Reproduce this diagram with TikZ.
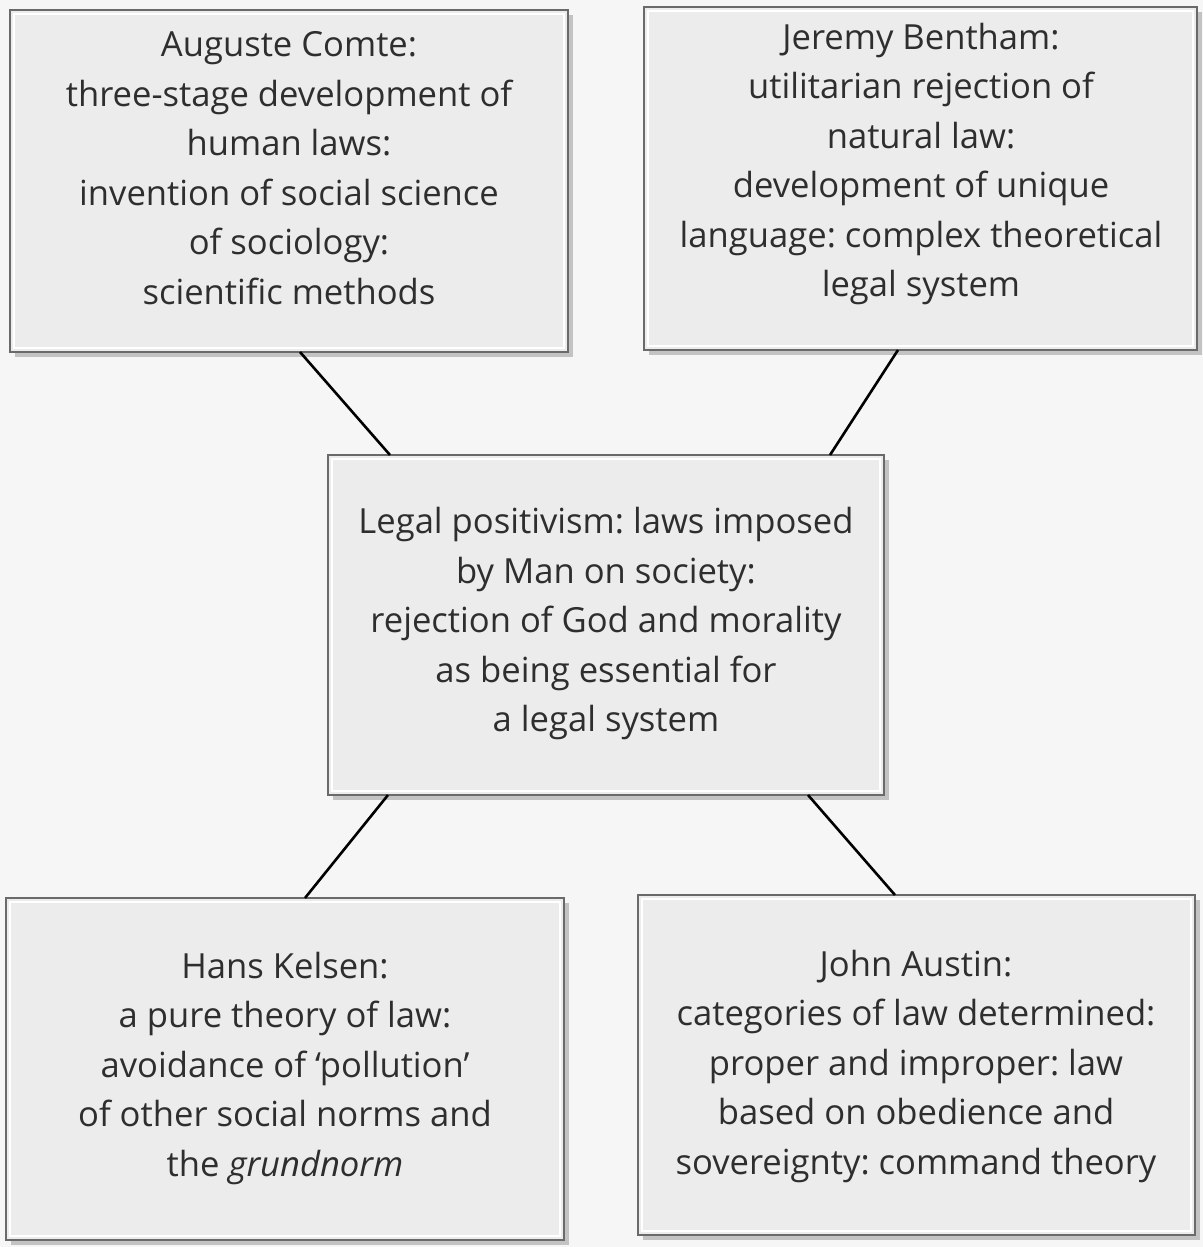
\documentclass[tikz,border=0pt]{standalone}
\usepackage{fontspec}
\newfontfamily\boxfont{Open Sans}
\usetikzlibrary{shadows}
\definecolor{bg}{HTML}{F6F6F6}
\definecolor{boxfill}{HTML}{ECECEC}
\definecolor{boxline}{HTML}{6A6A6A}
\definecolor{txt}{HTML}{2E2E2E}
\frenchspacing
\tikzset{
  px/.style={x=0.5pt,y=-0.5pt},
  card/.style={rectangle, draw=boxline, line width=1.4pt, fill=boxfill,
    inner sep=0pt, outer sep=0pt,
    drop shadow={shadow xshift=2.5pt, shadow yshift=-2.5pt, opacity=0.35, fill=black!60}},
  cardtext/.style={align=center, text=txt, inner sep=0pt,
    font=\boxfont\fontsize{17.3pt}{24.75pt}\selectfont},
  link/.style={draw=black, line width=1.3pt}
}
\begin{document}
\begin{tikzpicture}[px]
\useasboundingbox[fill=bg] (0,0) rectangle (1203,1247);
% boxes
\node[card, minimum width=279pt, minimum height=171pt] (comte) at (289,181) {};
\node[card, minimum width=276.5pt, minimum height=171.5pt] (bentham) at (920.5,178.5) {};
\node[card, minimum width=278pt, minimum height=170pt] (centre) at (606,625) {};
\node[card, minimum width=279pt, minimum height=171pt] (kelsen) at (285,1069) {};
\node[card, minimum width=278.5pt, minimum height=170pt] (austin) at (916.5,1065) {};
% inner white frame lines
\foreach \n in {comte,bentham,centre,kelsen,austin}{
  \draw[white, line width=0.8pt] ([shift={(2pt,2pt)}]\n.south west) rectangle ([shift={(-2pt,-2pt)}]\n.north east);
}
% texts
\node[cardtext] (comtetext) at (289,168) {Auguste Comte:\\three-stage development of\\human laws:\\invention of social science\\of sociology:\\scientific methods};
\node[cardtext] (benthamtext) at (921,164) {Jeremy Bentham:\\utilitarian rejection of\\natural law:\\development of unique\\language: complex theoretical\\legal system};
\node[cardtext] (centretext) at (606,624) {Legal positivism: laws imposed\\by Man on society:\\rejection of God and morality\\as being essential for\\a legal system};
\node[cardtext] (kelsentext) at (285,1068) {Hans Kelsen:\\a pure theory of law:\\avoidance of ‘pollution’\\of other social norms and\\the \textit{grundnorm}};
\node[cardtext] (austintext) at (916,1066) {John Austin:\\categories of law determined:\\proper and improper: law\\based on obedience and\\sovereignty: command theory};
% connectors
\draw[link] ([xshift=5.5pt]comte.south) -- ([xshift=-108pt]centre.north);
\draw[link] ([xshift=-11.25pt]bentham.south) -- ([xshift=112pt]centre.north);
\draw[link] ([xshift=-109pt]centre.south) -- ([xshift=10pt]kelsen.north);
\draw[link] ([xshift=101pt]centre.south) -- ([xshift=-10.75pt]austin.north);
\end{tikzpicture}
\end{document}
